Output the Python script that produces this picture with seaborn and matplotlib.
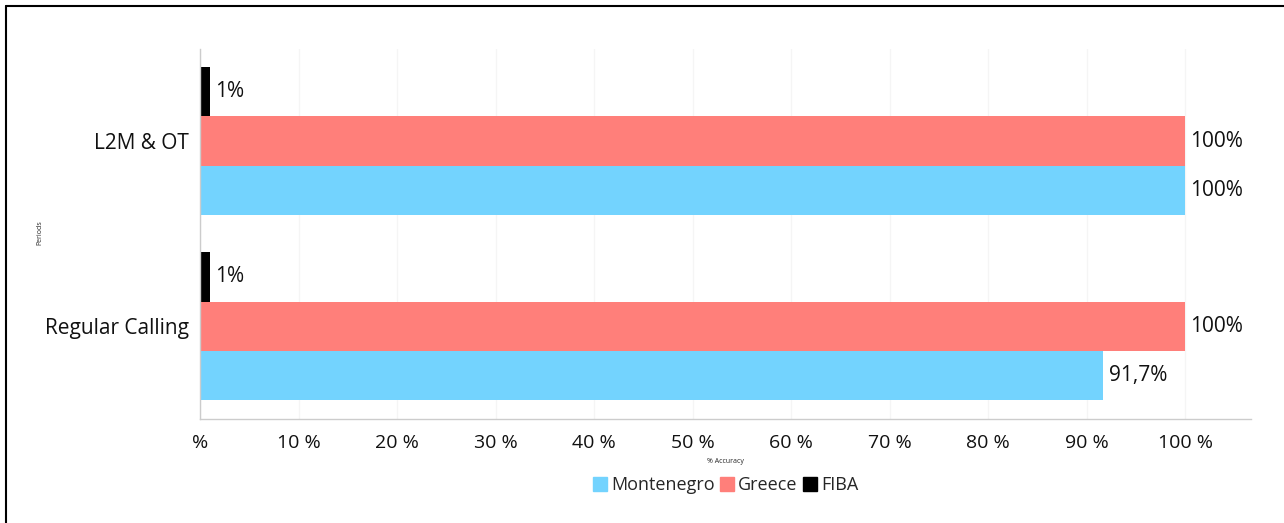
import matplotlib
matplotlib.use("Agg")
import matplotlib.pyplot as plt
import matplotlib.patches as mpatches
from matplotlib.lines import Line2D
import seaborn as sns
import pandas as pd

categories = ["L2M & OT", "Regular Calling"]
series_names = ["FIBA", "Greece", "Montenegro"]
fiba = [1, 1]
greece = [100, 100]
montenegro = [100, 91.7]
xtick_values = [0, 10, 20, 30, 40, 50, 60, 70, 80, 90, 100]
xtick_labels = ["%", "10 %", "20 %", "30 %", "40 %", "50 %", "60 %", "70 %", "80 %", "90 %", "100 %"]
legend_order = ["Montenegro", "Greece", "FIBA"]
colors = {"Montenegro": "#73D3FE", "Greece": "#FF7F7A", "FIBA": "#000000"}

rows = []
for name, vals in zip(series_names, [fiba, greece, montenegro]):
    for c, v in zip(categories, vals):
        rows.append({"Period": c, "Series": name, "Value": v})
df = pd.DataFrame(rows)

sns.set_theme(style="white")
plt.rcParams["font.family"] = ["Open Sans", "DejaVu Sans"]

fig = plt.figure(figsize=(12.84, 5.23), dpi=100)
ax = fig.add_axes([200/1284, 1 - 419/523, (1251-200)/1284, (419-48.5)/523])

sns.barplot(data=df, y="Period", x="Value", hue="Series", hue_order=series_names,
            order=categories, palette=colors, orient="h", width=0.8,
            saturation=1, ax=ax, legend=False, linewidth=0)

def fmt(v):
    s = ("%g" % v).replace(".", ",")
    return s + "%"

for cont, name in zip(ax.containers, series_names):
    ax.bar_label(cont, labels=[fmt(b.get_width()) for b in cont], padding=4,
                 fontsize=15, color="#111111")

ax.set_xlim(0, 106.7)
ax.set_ylim(1.5, -0.5)
ax.set_xticks(xtick_values)
ax.set_xticklabels(xtick_labels, fontsize=14, color="#111111")
ax.tick_params(axis="x", length=6, width=1, color="#cccccc", pad=5)
ax.tick_params(axis="y", length=6, width=1, color="#cccccc", pad=2, labelsize=15, labelcolor="#111111")
ax.grid(axis="x", color="#f5f5f5", linewidth=1)
ax.set_axisbelow(True)
for s in ["top", "right"]:
    ax.spines[s].set_visible(False)
for s in ["left", "bottom"]:
    ax.spines[s].set_color("#cccccc")
    ax.spines[s].set_linewidth(1)

ax.set_xlabel("% Accuracy", fontsize=5, labelpad=4)
ax.set_ylabel("")
fig.text(40/1284, 1 - 233/523, "Periods", fontsize=5, rotation=90, ha="center", va="center")

handles = [mpatches.Patch(color=colors[n], label=n) for n in legend_order]
ax.legend(handles=handles, loc="center", bbox_to_anchor=(0.5, -0.178), ncol=3,
          frameon=False, fontsize=13, handlelength=0.8, handleheight=0.8,
          handletextpad=0.2, columnspacing=0.3, borderaxespad=0)

fig.add_artist(Line2D([6/1284, 1], [1 - 6/523, 1 - 6/523], color="black", linewidth=1.5))
fig.add_artist(Line2D([6/1284, 6/1284], [0, 1 - 6/523], color="black", linewidth=1.5))

fig.savefig("out.png", dpi=100)
